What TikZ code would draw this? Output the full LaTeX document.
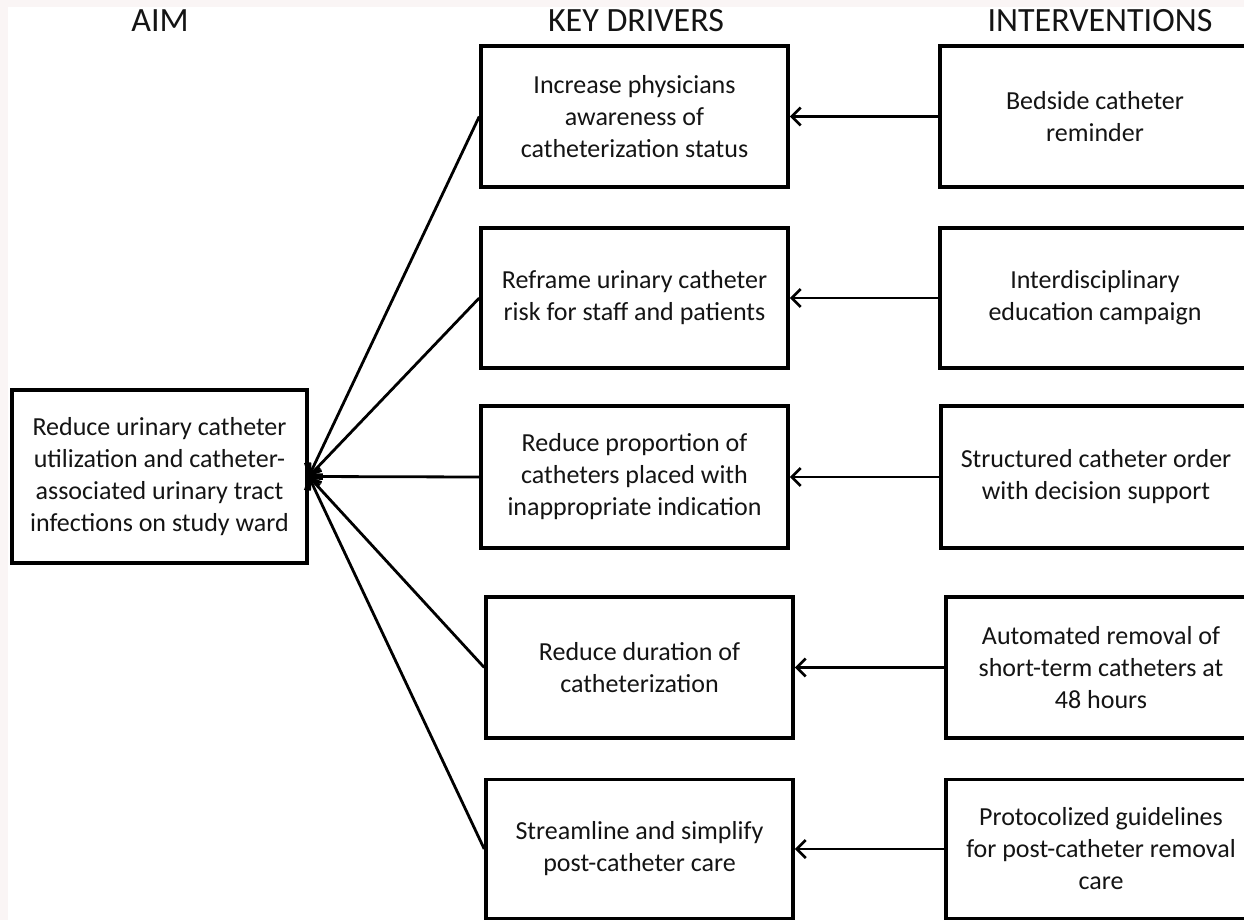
\documentclass[tikz,border=0pt]{standalone}
\usepackage{fontspec}
\setmainfont{Carlito}
\usetikzlibrary{arrows.meta}
\definecolor{strip}{RGB}{250,245,245}
\definecolor{ink}{RGB}{20,20,20}
\tikzset{
  box/.style={draw=black, line width=3.5pt, fill=white, align=center, inner sep=4pt,
    text=ink, font=\fontsize{26}{32}\selectfont},
  head/.style={font=\fontsize{34}{40}\selectfont, anchor=center, text=ink},
  conn/.style={line width=2.8pt, -{Straight Barb[length=9pt,width=18pt,line width=2.8pt]}},
}
\begin{document}
\begin{tikzpicture}[x=1pt,y=-1pt]
\useasboundingbox (0,0) rectangle (1244,920);
\fill[strip] (0,0) rectangle (1244,7);
\fill[strip] (0,0) rectangle (8,920);
% headers
\node[head] (hA) at (160,21) {AIM};
\node[head] (hK) at (636,21) {KEY DRIVERS};
\node[head] (hI) at (1100,21) {INTERVENTIONS};
% aim
\node[box, minimum width=295pt, minimum height=173pt] (aim) at (159.5,476.5)
  {Reduce urinary catheter\\utilization and catheter-\\associated urinary tract\\infections on study ward};
% drivers
\node[box, minimum width=307pt, minimum height=141pt] (d1) at (634.5,116.5)
  {Increase physicians\\awareness of\\catheterization status};
\node[box, minimum width=307pt, minimum height=140pt] (d2) at (634.5,298)
  {Reframe urinary catheter\\risk for staff and patients};
\node[box, minimum width=307pt, minimum height=142pt] (d3) at (634.5,477)
  {Reduce proportion of\\catheters placed with\\inappropriate indication};
\node[box, minimum width=307pt, minimum height=141pt] (d4) at (639.5,667.5)
  {Reduce duration of\\catheterization};
\node[box, minimum width=307pt, minimum height=139pt] (d5) at (639.5,849)
  {Streamline and simplify\\post-catheter care};
% interventions
\node[box, minimum width=310pt, minimum height=141pt] (i1) at (1095,116.5)
  {Bedside catheter\\reminder};
\node[box, minimum width=310pt, minimum height=140pt] (i2) at (1095,298)
  {Interdisciplinary\\education campaign};
\node[box, minimum width=310pt, minimum height=142pt] (i3) at (1096,477)
  {Structured catheter order\\with decision support};
\node[box, minimum width=310pt, minimum height=141pt] (i4) at (1101,667.5)
  {Automated removal of\\short-term catheters at\\48 hours};
\node[box, minimum width=310pt, minimum height=139pt] (i5) at (1101,849)
  {Protocolized guidelines\\for post-catheter removal\\care};
% connectors
\foreach \n in {1,...,5}{
  \draw[conn] (i\n.west) -- (d\n.east);
  \draw[conn] (d\n.west) -- (aim.east);
}
\end{tikzpicture}
\end{document}
